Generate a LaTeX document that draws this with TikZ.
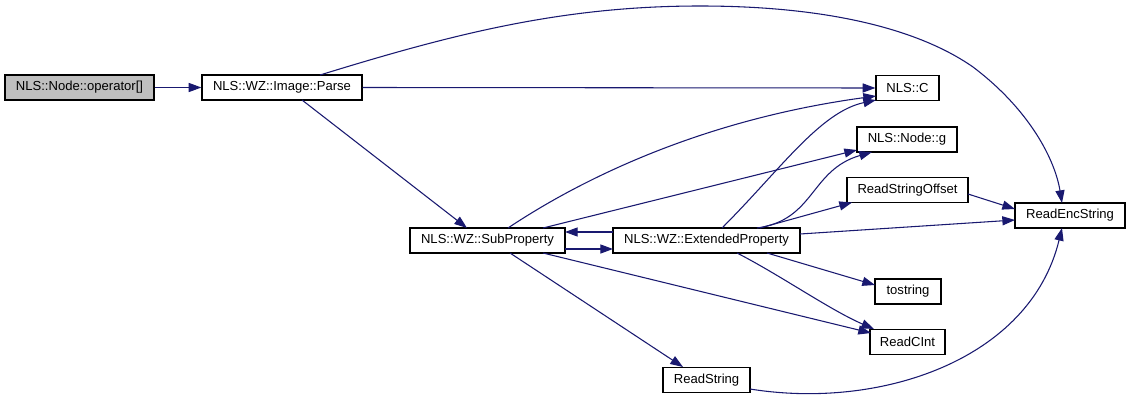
\documentclass[tikz,border=0pt]{standalone}
\usepackage{fontspec}
\setmainfont{Liberation Sans}
\usetikzlibrary{arrows.meta,calc}
\definecolor{edgeblue}{HTML}{191970}
\definecolor{boxgray}{HTML}{BFBFBF}
\tikzset{
  fnbox/.style={draw=black, line width=0.9pt, fill=white, inner sep=0pt,
    minimum height=25*0.75pt, font=\fontsize{9.8pt}{11pt}\selectfont, text=black},
  call/.style={draw=edgeblue, line width=0.8pt, -{Triangle[length=9.5pt,width=6.8pt]}, fill=none},
}
\begin{document}
\begin{tikzpicture}[x=0.75pt,y=-0.75pt]
\fill[white] (0,0) rectangle (1131,403);
\useasboundingbox (0,0) rectangle (1131,403);

\node[fnbox, fill=boxgray, minimum width=149*0.75pt] (op) at (79.5,87.5) {NLS::Node::operator[]};
\node[fnbox, minimum width=160*0.75pt] (parse) at (282,87.5) {NLS::WZ::Image::Parse};
\node[fnbox, minimum width=63*0.75pt] (nlsc) at (907.5,88) {NLS::C};
\node[fnbox, minimum width=100*0.75pt] (g) at (907,139.5) {NLS::Node::g};
\node[fnbox, minimum width=121*0.75pt] (rso) at (907.5,190) {ReadStringOffset};
\node[fnbox, minimum width=110*0.75pt] (res) at (1070,215.5) {ReadEncString};
\node[fnbox, minimum width=155*0.75pt] (sub) at (487.5,240.5) {NLS::WZ::SubProperty};
\node[fnbox, minimum width=187*0.75pt] (ext) at (706.5,240.5) {NLS::WZ::ExtendedProperty};
\node[fnbox, minimum width=66*0.75pt] (tostr) at (908,291.5) {tostring};
\node[fnbox, minimum width=75*0.75pt] (rci) at (907.5,342) {ReadCInt};
\node[fnbox, minimum width=87*0.75pt] (rs) at (706.5,380) {ReadString};

% edges
\draw[call] (op.east) -- (parse.west);
\draw[call] (parse.east) -- (nlsc.west);
\draw[call] ($(parse)+(38,-12.5)$) .. controls (450,35) and (560,6) .. (700,6)
   .. controls (830,6) and (920,30) .. (973,67)
   .. controls (1030,110) and (1055,160) .. ($(res)+(-8,-12.5)$);
\draw[call] ($(parse)+(20,12.5)$) -- ($(sub)+(-20.5,-12.5)$);
\draw[call] ($(sub)+(20.5,-12.5)$) .. controls (580,180) and (700,120) .. ($(nlsc)+(-31.5,8)$);
\draw[call] ($(sub)+(55.5,-12.5)$) -- ($(g)+(-50,10.5)$);
\draw[call] ($(sub)+(77.5,8.5)$) -- ($(ext)+(-93.5,8.5)$);
\draw[call] ($(ext)+(-93.5,-8.5)$) -- ($(sub)+(77.5,-8.5)$);
\draw[call] ($(ext)+(15.5,-12.5)$) .. controls (780,170) and (820,112) .. ($(nlsc)+(-31.5,12)$);
\draw[call] ($(ext)+(50.5,-12.5)$) .. controls (815,220) and (810,170) .. ($(g)+(-35,12.5)$);
\draw[call] ($(ext)+(53.5,-12.5)$) -- ($(rso)+(-55.5,12.5)$);
\draw[call] ($(ext)+(93.5,-6.5)$) -- ($(res)+(-55,4.5)$);
\draw[call] ($(ext)+(60.5,12.5)$) -- ($(tostr)+(-33,-6.5)$);
\draw[call] ($(ext)+(30.5,12.5)$) .. controls (780,275) and (830,310) .. ($(rci)+(-33.5,-13)$);
\draw[call] ($(sub)+(55.5,12.5)$) -- ($(rci)+(-36.5,-9)$);
\draw[call] ($(sub)+(22.5,12.5)$) -- ($(rs)+(-23.5,-13)$);
\draw[call] ($(rs)+(43.5,9)$) .. controls (880,410) and (1030,360) .. ($(res)+(-8,12.5)$);
\draw[call] ($(rso)+(60.5,4)$) -- ($(res)+(-55,-6.5)$);
\end{tikzpicture}
\end{document}
